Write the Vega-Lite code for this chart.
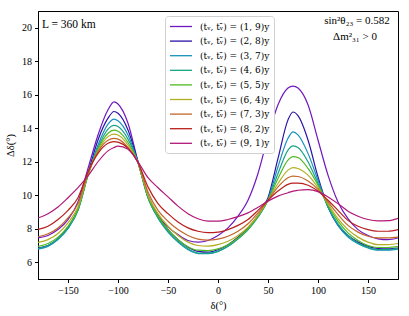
{
  "$schema": "https://vega.github.io/schema/vega-lite/v6.json",
  "width": 360,
  "height": 268,
  "autosize": "none",
  "padding": {"left": 38, "top": 11, "right": 11, "bottom": 37},
  "background": "white",
  "config": {
    "view": {"stroke": "black", "strokeWidth": 1},
    "axis": {"grid": false, "domainColor": "black", "tickColor": "black", "tickSize": 3.5, "labelFont": "Liberation Serif", "labelFontSize": 10, "labelColor": "black", "titleFont": "Liberation Serif", "titleFontSize": 10.5, "titleFontWeight": "normal", "titleColor": "black", "labelPadding": 3, "labelOverlap": false}
  },
  "datasets": {
    "curves": [
{"s":"(1, 9)","d":-180,"v":7.45},{"s":"(1, 9)","d":-170,"v":7.6},{"s":"(1, 9)","d":-160,"v":7.95},{"s":"(1, 9)","d":-150,"v":8.55},{"s":"(1, 9)","d":-140,"v":9.6},{"s":"(1, 9)","d":-130,"v":11.6},{"s":"(1, 9)","d":-120,"v":13.6},{"s":"(1, 9)","d":-110,"v":15.1},{"s":"(1, 9)","d":-104,"v":15.58},{"s":"(1, 9)","d":-100,"v":15.45},{"s":"(1, 9)","d":-90,"v":14.3},{"s":"(1, 9)","d":-80,"v":12.0},{"s":"(1, 9)","d":-70,"v":10.0},{"s":"(1, 9)","d":-60,"v":8.8},{"s":"(1, 9)","d":-50,"v":8.1},{"s":"(1, 9)","d":-40,"v":7.65},{"s":"(1, 9)","d":-30,"v":7.3},{"s":"(1, 9)","d":-20,"v":7.2},{"s":"(1, 9)","d":-10,"v":7.3},{"s":"(1, 9)","d":0,"v":7.6},{"s":"(1, 9)","d":10,"v":8.05},{"s":"(1, 9)","d":20,"v":8.75},{"s":"(1, 9)","d":30,"v":9.7},{"s":"(1, 9)","d":40,"v":11.3},{"s":"(1, 9)","d":50,"v":13.5},{"s":"(1, 9)","d":60,"v":15.4},{"s":"(1, 9)","d":70,"v":16.4},{"s":"(1, 9)","d":75,"v":16.52},{"s":"(1, 9)","d":80,"v":16.4},{"s":"(1, 9)","d":90,"v":15.4},{"s":"(1, 9)","d":100,"v":13.3},{"s":"(1, 9)","d":110,"v":11.2},{"s":"(1, 9)","d":120,"v":9.6},{"s":"(1, 9)","d":130,"v":8.6},{"s":"(1, 9)","d":140,"v":7.95},{"s":"(1, 9)","d":150,"v":7.6},{"s":"(1, 9)","d":160,"v":7.4},{"s":"(1, 9)","d":170,"v":7.35},{"s":"(1, 9)","d":180,"v":7.45},
{"s":"(2, 8)","d":-180,"v":6.85},{"s":"(2, 8)","d":-170,"v":7.0},{"s":"(2, 8)","d":-160,"v":7.4},{"s":"(2, 8)","d":-150,"v":8.1},{"s":"(2, 8)","d":-140,"v":9.2},{"s":"(2, 8)","d":-130,"v":11.3},{"s":"(2, 8)","d":-120,"v":13.3},{"s":"(2, 8)","d":-110,"v":14.6},{"s":"(2, 8)","d":-104,"v":15.0},{"s":"(2, 8)","d":-100,"v":14.9},{"s":"(2, 8)","d":-90,"v":13.9},{"s":"(2, 8)","d":-80,"v":12.0},{"s":"(2, 8)","d":-70,"v":9.9},{"s":"(2, 8)","d":-60,"v":8.75},{"s":"(2, 8)","d":-50,"v":7.95},{"s":"(2, 8)","d":-40,"v":7.35},{"s":"(2, 8)","d":-30,"v":6.9},{"s":"(2, 8)","d":-20,"v":6.65},{"s":"(2, 8)","d":-10,"v":6.6},{"s":"(2, 8)","d":0,"v":6.75},{"s":"(2, 8)","d":10,"v":7.05},{"s":"(2, 8)","d":20,"v":7.5},{"s":"(2, 8)","d":30,"v":8.05},{"s":"(2, 8)","d":40,"v":8.8},{"s":"(2, 8)","d":50,"v":9.85},{"s":"(2, 8)","d":60,"v":12.2},{"s":"(2, 8)","d":70,"v":14.5},{"s":"(2, 8)","d":75,"v":14.97},{"s":"(2, 8)","d":80,"v":14.75},{"s":"(2, 8)","d":90,"v":13.3},{"s":"(2, 8)","d":100,"v":11.1},{"s":"(2, 8)","d":110,"v":9.3},{"s":"(2, 8)","d":120,"v":8.2},{"s":"(2, 8)","d":130,"v":7.6},{"s":"(2, 8)","d":140,"v":7.2},{"s":"(2, 8)","d":150,"v":6.95},{"s":"(2, 8)","d":160,"v":6.82},{"s":"(2, 8)","d":170,"v":6.8},{"s":"(2, 8)","d":180,"v":6.85},
{"s":"(3, 7)","d":-180,"v":6.78},{"s":"(3, 7)","d":-170,"v":6.95},{"s":"(3, 7)","d":-160,"v":7.35},{"s":"(3, 7)","d":-150,"v":8.0},{"s":"(3, 7)","d":-140,"v":9.1},{"s":"(3, 7)","d":-130,"v":11.2},{"s":"(3, 7)","d":-120,"v":13.0},{"s":"(3, 7)","d":-110,"v":14.25},{"s":"(3, 7)","d":-104,"v":14.55},{"s":"(3, 7)","d":-100,"v":14.45},{"s":"(3, 7)","d":-90,"v":13.6},{"s":"(3, 7)","d":-80,"v":11.95},{"s":"(3, 7)","d":-70,"v":9.85},{"s":"(3, 7)","d":-60,"v":8.65},{"s":"(3, 7)","d":-50,"v":7.8},{"s":"(3, 7)","d":-40,"v":7.2},{"s":"(3, 7)","d":-30,"v":6.75},{"s":"(3, 7)","d":-20,"v":6.52},{"s":"(3, 7)","d":-10,"v":6.52},{"s":"(3, 7)","d":0,"v":6.65},{"s":"(3, 7)","d":10,"v":6.95},{"s":"(3, 7)","d":20,"v":7.4},{"s":"(3, 7)","d":30,"v":7.95},{"s":"(3, 7)","d":40,"v":8.7},{"s":"(3, 7)","d":50,"v":9.75},{"s":"(3, 7)","d":60,"v":11.7},{"s":"(3, 7)","d":70,"v":13.4},{"s":"(3, 7)","d":75,"v":13.78},{"s":"(3, 7)","d":80,"v":13.6},{"s":"(3, 7)","d":90,"v":12.5},{"s":"(3, 7)","d":100,"v":10.9},{"s":"(3, 7)","d":110,"v":9.3},{"s":"(3, 7)","d":120,"v":8.2},{"s":"(3, 7)","d":130,"v":7.5},{"s":"(3, 7)","d":140,"v":7.1},{"s":"(3, 7)","d":150,"v":6.85},{"s":"(3, 7)","d":160,"v":6.72},{"s":"(3, 7)","d":170,"v":6.72},{"s":"(3, 7)","d":180,"v":6.78},
{"s":"(4, 6)","d":-180,"v":6.82},{"s":"(4, 6)","d":-170,"v":7.0},{"s":"(4, 6)","d":-160,"v":7.4},{"s":"(4, 6)","d":-150,"v":8.05},{"s":"(4, 6)","d":-140,"v":9.1},{"s":"(4, 6)","d":-130,"v":11.2},{"s":"(4, 6)","d":-120,"v":12.85},{"s":"(4, 6)","d":-110,"v":13.95},{"s":"(4, 6)","d":-104,"v":14.17},{"s":"(4, 6)","d":-100,"v":14.1},{"s":"(4, 6)","d":-90,"v":13.35},{"s":"(4, 6)","d":-80,"v":11.95},{"s":"(4, 6)","d":-70,"v":9.85},{"s":"(4, 6)","d":-60,"v":8.65},{"s":"(4, 6)","d":-50,"v":7.85},{"s":"(4, 6)","d":-40,"v":7.25},{"s":"(4, 6)","d":-30,"v":6.8},{"s":"(4, 6)","d":-20,"v":6.55},{"s":"(4, 6)","d":-10,"v":6.53},{"s":"(4, 6)","d":0,"v":6.65},{"s":"(4, 6)","d":10,"v":6.95},{"s":"(4, 6)","d":20,"v":7.4},{"s":"(4, 6)","d":30,"v":7.95},{"s":"(4, 6)","d":40,"v":8.7},{"s":"(4, 6)","d":50,"v":9.7},{"s":"(4, 6)","d":60,"v":11.3},{"s":"(4, 6)","d":70,"v":12.7},{"s":"(4, 6)","d":75,"v":12.95},{"s":"(4, 6)","d":80,"v":12.85},{"s":"(4, 6)","d":90,"v":12.0},{"s":"(4, 6)","d":100,"v":10.7},{"s":"(4, 6)","d":110,"v":9.3},{"s":"(4, 6)","d":120,"v":8.3},{"s":"(4, 6)","d":130,"v":7.6},{"s":"(4, 6)","d":140,"v":7.15},{"s":"(4, 6)","d":150,"v":6.9},{"s":"(4, 6)","d":160,"v":6.75},{"s":"(4, 6)","d":170,"v":6.75},{"s":"(4, 6)","d":180,"v":6.82},
{"s":"(5, 5)","d":-180,"v":6.95},{"s":"(5, 5)","d":-170,"v":7.12},{"s":"(5, 5)","d":-160,"v":7.5},{"s":"(5, 5)","d":-150,"v":8.15},{"s":"(5, 5)","d":-140,"v":9.15},{"s":"(5, 5)","d":-130,"v":11.2},{"s":"(5, 5)","d":-120,"v":12.75},{"s":"(5, 5)","d":-110,"v":13.7},{"s":"(5, 5)","d":-104,"v":13.89},{"s":"(5, 5)","d":-100,"v":13.82},{"s":"(5, 5)","d":-90,"v":13.15},{"s":"(5, 5)","d":-80,"v":11.95},{"s":"(5, 5)","d":-70,"v":9.9},{"s":"(5, 5)","d":-60,"v":8.75},{"s":"(5, 5)","d":-50,"v":7.95},{"s":"(5, 5)","d":-40,"v":7.35},{"s":"(5, 5)","d":-30,"v":6.93},{"s":"(5, 5)","d":-20,"v":6.72},{"s":"(5, 5)","d":-10,"v":6.7},{"s":"(5, 5)","d":0,"v":6.8},{"s":"(5, 5)","d":10,"v":7.05},{"s":"(5, 5)","d":20,"v":7.45},{"s":"(5, 5)","d":30,"v":8.0},{"s":"(5, 5)","d":40,"v":8.75},{"s":"(5, 5)","d":50,"v":9.7},{"s":"(5, 5)","d":60,"v":11.0},{"s":"(5, 5)","d":70,"v":12.1},{"s":"(5, 5)","d":75,"v":12.31},{"s":"(5, 5)","d":80,"v":12.25},{"s":"(5, 5)","d":90,"v":11.6},{"s":"(5, 5)","d":100,"v":10.6},{"s":"(5, 5)","d":110,"v":9.4},{"s":"(5, 5)","d":120,"v":8.45},{"s":"(5, 5)","d":130,"v":7.75},{"s":"(5, 5)","d":140,"v":7.3},{"s":"(5, 5)","d":150,"v":7.0},{"s":"(5, 5)","d":160,"v":6.88},{"s":"(5, 5)","d":170,"v":6.88},{"s":"(5, 5)","d":180,"v":6.93},
{"s":"(6, 4)","d":-180,"v":7.18},{"s":"(6, 4)","d":-170,"v":7.35},{"s":"(6, 4)","d":-160,"v":7.72},{"s":"(6, 4)","d":-150,"v":8.35},{"s":"(6, 4)","d":-140,"v":9.3},{"s":"(6, 4)","d":-130,"v":11.25},{"s":"(6, 4)","d":-120,"v":12.65},{"s":"(6, 4)","d":-110,"v":13.5},{"s":"(6, 4)","d":-104,"v":13.65},{"s":"(6, 4)","d":-100,"v":13.6},{"s":"(6, 4)","d":-90,"v":13.0},{"s":"(6, 4)","d":-80,"v":11.95},{"s":"(6, 4)","d":-70,"v":10.0},{"s":"(6, 4)","d":-60,"v":8.9},{"s":"(6, 4)","d":-50,"v":8.15},{"s":"(6, 4)","d":-40,"v":7.6},{"s":"(6, 4)","d":-30,"v":7.2},{"s":"(6, 4)","d":-20,"v":7.0},{"s":"(6, 4)","d":-10,"v":6.96},{"s":"(6, 4)","d":0,"v":7.05},{"s":"(6, 4)","d":10,"v":7.25},{"s":"(6, 4)","d":20,"v":7.6},{"s":"(6, 4)","d":30,"v":8.1},{"s":"(6, 4)","d":40,"v":8.8},{"s":"(6, 4)","d":50,"v":9.7},{"s":"(6, 4)","d":60,"v":10.7},{"s":"(6, 4)","d":70,"v":11.5},{"s":"(6, 4)","d":75,"v":11.65},{"s":"(6, 4)","d":80,"v":11.6},{"s":"(6, 4)","d":90,"v":11.2},{"s":"(6, 4)","d":100,"v":10.45},{"s":"(6, 4)","d":110,"v":9.5},{"s":"(6, 4)","d":120,"v":8.6},{"s":"(6, 4)","d":130,"v":7.95},{"s":"(6, 4)","d":140,"v":7.5},{"s":"(6, 4)","d":150,"v":7.2},{"s":"(6, 4)","d":160,"v":7.05},{"s":"(6, 4)","d":170,"v":7.05},{"s":"(6, 4)","d":180,"v":7.12},
{"s":"(7, 3)","d":-180,"v":7.52},{"s":"(7, 3)","d":-170,"v":7.7},{"s":"(7, 3)","d":-160,"v":8.05},{"s":"(7, 3)","d":-150,"v":8.65},{"s":"(7, 3)","d":-140,"v":9.5},{"s":"(7, 3)","d":-130,"v":11.3},{"s":"(7, 3)","d":-120,"v":12.6},{"s":"(7, 3)","d":-110,"v":13.28},{"s":"(7, 3)","d":-104,"v":13.39},{"s":"(7, 3)","d":-100,"v":13.35},{"s":"(7, 3)","d":-90,"v":12.85},{"s":"(7, 3)","d":-80,"v":11.95},{"s":"(7, 3)","d":-70,"v":10.2},{"s":"(7, 3)","d":-60,"v":9.1},{"s":"(7, 3)","d":-50,"v":8.45},{"s":"(7, 3)","d":-40,"v":7.95},{"s":"(7, 3)","d":-30,"v":7.6},{"s":"(7, 3)","d":-20,"v":7.38},{"s":"(7, 3)","d":-10,"v":7.32},{"s":"(7, 3)","d":0,"v":7.38},{"s":"(7, 3)","d":10,"v":7.55},{"s":"(7, 3)","d":20,"v":7.85},{"s":"(7, 3)","d":30,"v":8.3},{"s":"(7, 3)","d":40,"v":8.95},{"s":"(7, 3)","d":50,"v":9.7},{"s":"(7, 3)","d":60,"v":10.5},{"s":"(7, 3)","d":70,"v":11.05},{"s":"(7, 3)","d":75,"v":11.14},{"s":"(7, 3)","d":80,"v":11.12},{"s":"(7, 3)","d":90,"v":10.85},{"s":"(7, 3)","d":100,"v":10.35},{"s":"(7, 3)","d":110,"v":9.6},{"s":"(7, 3)","d":120,"v":8.85},{"s":"(7, 3)","d":130,"v":8.2},{"s":"(7, 3)","d":140,"v":7.8},{"s":"(7, 3)","d":150,"v":7.55},{"s":"(7, 3)","d":160,"v":7.45},{"s":"(7, 3)","d":170,"v":7.45},{"s":"(7, 3)","d":180,"v":7.5},
{"s":"(8, 2)","d":-180,"v":7.96},{"s":"(8, 2)","d":-170,"v":8.15},{"s":"(8, 2)","d":-160,"v":8.55},{"s":"(8, 2)","d":-150,"v":9.1},{"s":"(8, 2)","d":-140,"v":9.85},{"s":"(8, 2)","d":-130,"v":11.4},{"s":"(8, 2)","d":-120,"v":12.5},{"s":"(8, 2)","d":-110,"v":13.1},{"s":"(8, 2)","d":-104,"v":13.2},{"s":"(8, 2)","d":-100,"v":13.17},{"s":"(8, 2)","d":-90,"v":12.8},{"s":"(8, 2)","d":-80,"v":11.95},{"s":"(8, 2)","d":-70,"v":10.5},{"s":"(8, 2)","d":-60,"v":9.5},{"s":"(8, 2)","d":-50,"v":8.9},{"s":"(8, 2)","d":-40,"v":8.4},{"s":"(8, 2)","d":-30,"v":8.05},{"s":"(8, 2)","d":-20,"v":7.85},{"s":"(8, 2)","d":-10,"v":7.77},{"s":"(8, 2)","d":0,"v":7.8},{"s":"(8, 2)","d":10,"v":7.95},{"s":"(8, 2)","d":20,"v":8.2},{"s":"(8, 2)","d":30,"v":8.55},{"s":"(8, 2)","d":40,"v":9.1},{"s":"(8, 2)","d":50,"v":9.7},{"s":"(8, 2)","d":60,"v":10.25},{"s":"(8, 2)","d":70,"v":10.65},{"s":"(8, 2)","d":75,"v":10.72},{"s":"(8, 2)","d":80,"v":10.72},{"s":"(8, 2)","d":90,"v":10.6},{"s":"(8, 2)","d":100,"v":10.25},{"s":"(8, 2)","d":110,"v":9.7},{"s":"(8, 2)","d":120,"v":9.1},{"s":"(8, 2)","d":130,"v":8.5},{"s":"(8, 2)","d":140,"v":8.15},{"s":"(8, 2)","d":150,"v":7.95},{"s":"(8, 2)","d":160,"v":7.85},{"s":"(8, 2)","d":170,"v":7.85},{"s":"(8, 2)","d":180,"v":7.95},
{"s":"(9, 1)","d":-180,"v":8.64},{"s":"(9, 1)","d":-170,"v":8.9},{"s":"(9, 1)","d":-160,"v":9.3},{"s":"(9, 1)","d":-150,"v":9.85},{"s":"(9, 1)","d":-140,"v":10.45},{"s":"(9, 1)","d":-130,"v":11.15},{"s":"(9, 1)","d":-120,"v":12.0},{"s":"(9, 1)","d":-110,"v":12.65},{"s":"(9, 1)","d":-104,"v":12.85},{"s":"(9, 1)","d":-100,"v":12.93},{"s":"(9, 1)","d":-90,"v":12.75},{"s":"(9, 1)","d":-80,"v":12.0},{"s":"(9, 1)","d":-70,"v":11.05},{"s":"(9, 1)","d":-60,"v":10.45},{"s":"(9, 1)","d":-50,"v":9.9},{"s":"(9, 1)","d":-40,"v":9.35},{"s":"(9, 1)","d":-30,"v":8.9},{"s":"(9, 1)","d":-20,"v":8.6},{"s":"(9, 1)","d":-10,"v":8.46},{"s":"(9, 1)","d":0,"v":8.45},{"s":"(9, 1)","d":10,"v":8.55},{"s":"(9, 1)","d":20,"v":8.72},{"s":"(9, 1)","d":30,"v":8.95},{"s":"(9, 1)","d":40,"v":9.28},{"s":"(9, 1)","d":50,"v":9.65},{"s":"(9, 1)","d":60,"v":9.95},{"s":"(9, 1)","d":70,"v":10.15},{"s":"(9, 1)","d":75,"v":10.25},{"s":"(9, 1)","d":80,"v":10.3},{"s":"(9, 1)","d":90,"v":10.34},{"s":"(9, 1)","d":100,"v":10.22},{"s":"(9, 1)","d":110,"v":9.9},{"s":"(9, 1)","d":120,"v":9.5},{"s":"(9, 1)","d":130,"v":9.05},{"s":"(9, 1)","d":140,"v":8.75},{"s":"(9, 1)","d":150,"v":8.55},{"s":"(9, 1)","d":160,"v":8.47},{"s":"(9, 1)","d":170,"v":8.48},{"s":"(9, 1)","d":180,"v":8.62}
    ]
  },
  "layer": [
    {
      "data": {"name": "curves"},
      "mark": {"type": "line", "interpolate": "monotone", "strokeWidth": 1.2, "clip": true},
      "encoding": {
        "x": {"field": "d", "type": "quantitative", "scale": {"domain": [-180, 180], "nice": false}, "axis": {"values": [-150, -100, -50, 0, 50, 100, 150], "title": "δ(°)", "titlePadding": 5}},
        "y": {"field": "v", "type": "quantitative", "scale": {"domain": [5, 21], "nice": false, "zero": false}, "axis": {"values": [6, 8, 10, 12, 14, 16, 18, 20], "tickCount": 8, "labelOverlap": false, "labelBound": false, "title": "Δδ(°)", "titlePadding": 6}},
        "color": {
          "field": "s", "type": "nominal",
          "scale": {"domain": ["(1, 9)", "(2, 8)", "(3, 7)", "(4, 6)", "(5, 5)", "(6, 4)", "(7, 3)", "(8, 2)", "(9, 1)"],
                    "range": ["#7216c0", "#2a12a8", "#1790bd", "#17a386", "#4fba24", "#b2ae22", "#c2662a", "#b81e1e", "#b01878"]},
          "legend": {
            "title": null, "orient": "none", "legendX": 127, "legendY": 5,
            "symbolType": "M-1,0H3", "symbolSize": 121, "symbolStrokeWidth": 1.3, "symbolFillColor": "transparent",
            "labelFont": "DejaVu Serif", "labelFontSize": 9, "labelColor": "black", "labelOffset": 18,
            "labelExpr": "'(tᵥ, tᵥ̄) = ' + datum.label + 'y'",
            "rowPadding": 2.6, "padding": 4, "fillColor": "white", "strokeColor": "#d0d0d0", "cornerRadius": 3
          }
        }
      }
    },
    {
      "data": {"values": [{}]},
      "mark": {"type": "text", "align": "left", "baseline": "middle", "font": "Liberation Serif", "fontSize": 11.5, "color": "black"},
      "encoding": {"x": {"datum": -176}, "y": {"datum": 20.15}, "text": {"value": "L = 360 km"}}
    },
    {
      "data": {"values": [{}]},
      "mark": {"type": "text", "align": "center", "baseline": "middle", "font": "Liberation Serif", "fontSize": 11, "color": "black"},
      "encoding": {"x": {"datum": 139}, "y": {"datum": 20.4}, "text": {"value": "sin²θ₂₃ = 0.582"}}
    },
    {
      "data": {"values": [{}]},
      "mark": {"type": "text", "align": "center", "baseline": "middle", "font": "Liberation Serif", "fontSize": 11, "color": "black"},
      "encoding": {"x": {"datum": 137}, "y": {"datum": 19.45}, "text": {"value": "Δm²₃₁ > 0"}}
    }
  ]
}
